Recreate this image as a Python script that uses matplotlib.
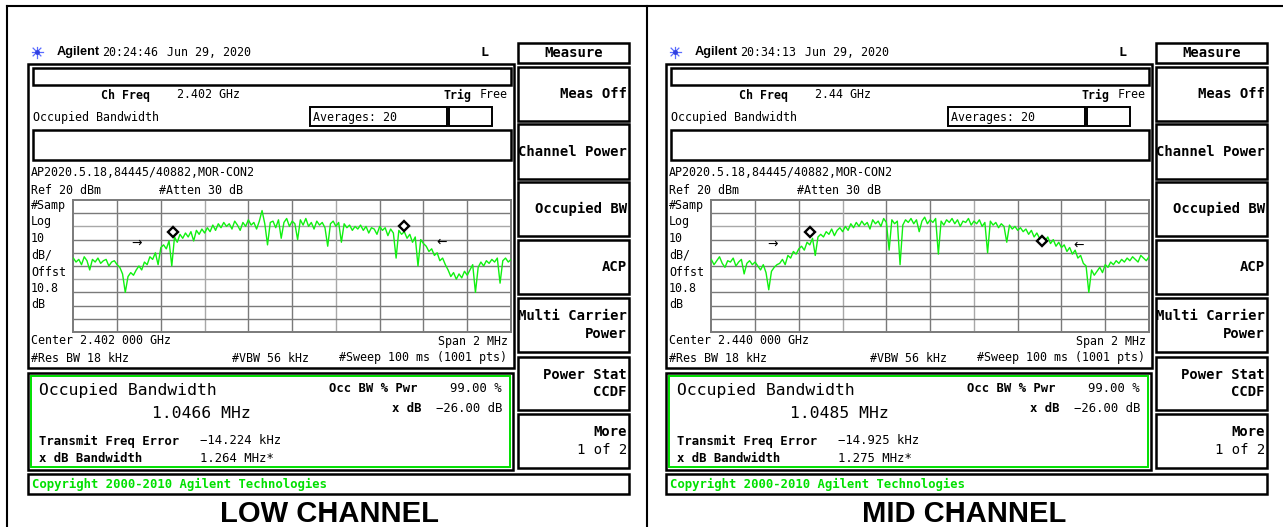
import numpy as np
import matplotlib
matplotlib.use("Agg")
import matplotlib.pyplot as plt
from matplotlib.patches import Rectangle
from matplotlib import font_manager

# ---------------- data ----------------
PANEL_TITLES = ["LOW CHANNEL", "MID CHANNEL"]
TIMES = ["20:24:46", "20:34:13"]
DATE = "Jun 29, 2020"
CH_FREQS = ["2.402 GHz", "2.44 GHz"]
CENTERS = ["Center 2.402 000 GHz", "Center 2.440 000 GHz"]
OCC_BW = ["1.0466 MHz", "1.0485 MHz"]
FREQ_ERR = ["\u221214.224 kHz", "\u221214.925 kHz"]
XDB_BW = ["1.264 MHz*", "1.275 MHz*"]
SOFTKEYS = ["Meas Off", "Channel Power", "Occupied BW", "ACP",
            "Multi Carrier\nPower", "Power Stat\nCCDF", "More\n1 of 2"]

SPAN_MHZ = 2.0
REF_DBM = 20
DB_PER_DIV = 10

LOW_TRACE = [
    -24, -27, -25, -29, -23, -26, -33, -25, -27, -24, -28, -26, -25, -30, -27, -26, -29,
    -31, -36, -50, -38, -35, -37, -33, -30,
    -33, -27, -29, -23, -25, -20, -29, -16,
    -14, -17, -11, -30, -8, -12, -6, -9,
    -5, -8, -4, -11, -3, -6, -2, -5,
    -1, -4, 1, -3, 2, -1, 3, 0,
    2, -2, 4, 1, -3, 3, 0, 5,
    1, 3, -2, 4, 12, 2, -14, 3,
    4, -1, 5, -9, 3, 6, 0, 4,
    2, -10, 5, 1, 6, 0, 3, -2,
    4, 1, 3, -1, -15, 2, 4, 0,
    3, -12, 2, -1, 1, -3, 0, -2,
    1, -3, 0, -5, -1, -2, -6, 0,
    -3, -1, -7, -2, -5, -24, -3, -6,
    -4, -9, -6, -12, -8, -30, -10, -13,
    -15, -19, -17, -22, -20, -26, -24, -29,
    -33, -38, -35, -40, -36, -39, -34, -37,
    -33, -29, -50, -31, -27, -30, -26, -28,
    -25, -27, -24, -43, -26, -24, -27, -25,
]
MID_TRACE = [
    -25, -29, -26, -23, -28, -31, -26, -27, -24, -30, -27, -25, -36, -28, -26, -29, -27,
    -30, -33, -29, -35, -48, -34, -31, -29,
    -28, -25, -29, -22, -24, -19, -21, -17,
    -15, -18, -12, -14, -9, -22, -8, -6,
    -8, -4, -6, -2, -7, -3, -1, -4,
    0, -3, 2, -1, 3, 0, 4, 1,
    3, -2, 5, 2, 4, 0, 6, 3,
    -18, 5, 2, 4, -29, 1, 5, 3,
    6, 2, 5, -4, 4, 7, 2, 5,
    3, 6, -21, 4, 1, 5, 3, 6,
    2, 5, 0, 4, 3, 6, 1, 4,
    2, 5, 0, 3, -20, 4, 1, 3,
    -1, 2, 0, -12, 1, -2, 0, -3,
    -1, -4, -2, -6, -3, -8, -5, -9,
    -7, -11, -8, -13, -10, -15, -12, -16,
    -14, -19, -16, -21, -18, -24, -22, -28,
    -30, -50, -33, -37, -34, -31, -35, -29,
    -31, -27, -29, -26, -28, -25, -27, -24,
    -26, -23, -25, -27, -22, -24, -26, -23,
]
TRACES = [LOW_TRACE, MID_TRACE]
# marker diamonds (MHz offset, dBm)
MARKER_F = [[-0.543, 0.509], [-0.547, 0.513]]
MARKER_DB = [[-4.5, 0.5], [-4.0, -11.0]]
# bandwidth arrows (MHz offset, dBm)
ARROW_F = [[-0.71, 0.684], [-0.72, 0.68]]
ARROW_DB = [[-12.8, -12.3], [-13.6, -14.0]]

# ---------------- fonts ----------------
names = {f.name for f in font_manager.fontManager.ttflist}
MONO = "DejaVu Sans Mono"
SANS = "Liberation Sans" if "Liberation Sans" in names else "DejaVu Sans"
if "Liberation Sans Narrow" in names:
    BIG, BIGSIZE = "Liberation Sans Narrow", 17
else:
    BIG, BIGSIZE = MONO, 11.8

W, H = 1283, 527
fig = plt.figure(figsize=(W / 100, H / 100), dpi=100)
fig.patch.set_facecolor("white")
bg = fig.add_axes([0, 0, 1, 1])
bg.set_xlim(0, W)
bg.set_ylim(H, 0)
bg.axis("off")

GREEN = "#00e000"


def rect(x0, y0, x1, y1, lw=1.5, ec="black", z=2):
    bg.add_patch(Rectangle((x0, y0), x1 - x0, y1 - y0, fill=False,
                           ec=ec, lw=lw, zorder=z))


def txt(x, y, s, size=8.4, weight="normal", ha="left", color="black",
        family=MONO, va="center", ls=1.2):
    bg.text(x, y, s, fontsize=size, fontweight=weight, ha=ha, va=va,
            color=color, family=family, linespacing=ls, zorder=5)


# outer frame
bg.plot([7, W], [6, 6], color="black", lw=1.5)
bg.plot([7, 7], [6, H], color="black", lw=1.5)
bg.plot([646.5, 646.5], [6, H], color="black", lw=1.5)

freq = np.linspace(-SPAN_MHZ / 2, SPAN_MHZ / 2, len(LOW_TRACE))


def star(cx, cy):
    for a in np.arange(0, np.pi, np.pi / 4):
        bg.plot([cx - 5.5 * np.cos(a), cx + 5.5 * np.cos(a)],
                [cy - 5.5 * np.sin(a), cy + 5.5 * np.sin(a)],
                color="#5a6cff", lw=0.9, zorder=4)
    bg.plot([cx], [cy], marker="o", ms=2.5, color="#3040e0", zorder=5)


def panel(k, dx):
    # header
    star(37 + dx, 52)
    txt(57 + dx, 52, "Agilent", family=SANS, weight="bold", size=9.2)
    txt(102 + dx, 52, TIMES[k])
    txt(167 + dx, 52, DATE)
    txt(480 + dx, 52, "L", weight="bold", size=9.5)

    # softkeys
    rect(518 + dx, 43, 629 + dx, 63, lw=1.8)
    txt(573.5 + dx, 53, "Measure", weight="bold", size=10, ha="center")
    boxes = [(67, 121), (124, 179), (182, 236), (240, 294),
             (298, 352), (357, 410), (414, 468)]
    for (y0, y1), lab in zip(boxes, SOFTKEYS):
        rect(518 + dx, y0, 629 + dx, y1, lw=1.8)
        lines = lab.split("\n")
        ym = (y0 + y1) / 2
        if len(lines) == 1:
            txt(627 + dx, ym, lines[0], weight="bold", size=10, ha="right")
        else:
            w2 = "normal" if lab.startswith("More") else "bold"
            txt(627 + dx, ym - 8.5, lines[0], weight="bold", size=10, ha="right")
            txt(627 + dx, ym + 8.5, lines[1], weight=w2, size=10, ha="right")

    # main screen
    rect(28 + dx, 64, 514 + dx, 368, lw=1.8)
    rect(33 + dx, 68, 511 + dx, 85, lw=1.8)
    txt(101 + dx, 95, "Ch Freq", weight="bold")
    txt(177 + dx, 95, CH_FREQS[k])
    txt(444 + dx, 95, "Trig", weight="bold")
    txt(480 + dx, 95, "Free")
    txt(33 + dx, 117, "Occupied Bandwidth")
    rect(310 + dx, 107, 447 + dx, 126, lw=1.4)
    rect(449 + dx, 107, 492 + dx, 126, lw=1.4)
    txt(313 + dx, 117, "Averages: 20")
    rect(33 + dx, 130, 511 + dx, 160, lw=1.8)
    txt(31 + dx, 172, "AP2020.5.18,84445/40882,MOR-CON2")
    txt(31 + dx, 191, "Ref 20 dBm")
    txt(159 + dx, 191, "#Atten 30 dB")
    for lab, yy in zip(["#Samp", "Log", "10", "dB/", "Offst", "10.8", "dB"],
                       [206, 222, 238, 255, 272, 288, 304]):
        txt(31 + dx, yy, lab)
    txt(31 + dx, 341, CENTERS[k])
    txt(508 + dx, 341, "Span 2 MHz", ha="right")
    txt(31 + dx, 358, "#Res BW 18 kHz")
    txt(232 + dx, 358, "#VBW 56 kHz")
    txt(507 + dx, 358, "#Sweep 100 ms (1001 pts)", ha="right")

    # graticule / trace
    gx0, gx1, gy0, gy1 = 73.3 + dx, 511 + dx, 200, 332
    ax = fig.add_axes([gx0 / W, 1 - gy1 / H, (gx1 - gx0) / W, (gy1 - gy0) / H])
    ax.set_xlim(-SPAN_MHZ / 2, SPAN_MHZ / 2)
    ax.set_ylim(REF_DBM - 10 * DB_PER_DIV, REF_DBM)
    ax.set_xticks([])
    ax.set_yticks([])
    ax.patch.set_alpha(0)
    for s in ax.spines.values():
        s.set_color("#7a7a7a")
        s.set_linewidth(1.4)
    for i in range(1, 10):
        cv = "#a8a8a8" if i in (3, 6) else "#7a7a7a"
        ch = "#a8a8a8" if i in (2, 6) else "#7a7a7a"
        ax.axvline(-SPAN_MHZ / 2 + i * SPAN_MHZ / 10, color=cv, lw=1.0, zorder=1)
        ax.axhline(REF_DBM - i * DB_PER_DIV, color=ch, lw=1.0, zorder=1)
    ax.plot(freq, TRACES[k], color="#10f010", lw=1.0, zorder=3)
    ax.plot(MARKER_F[k], MARKER_DB[k], ls="none", marker="D", ms=5,
            mfc="white", mec="black", mew=1.7, zorder=4)
    ax.text(ARROW_F[k][0], ARROW_DB[k][0], "\u2192", ha="center", va="center",
            fontsize=9, family="DejaVu Sans", zorder=4)
    ax.text(ARROW_F[k][1], ARROW_DB[k][1], "\u2190", ha="center", va="center",
            fontsize=9, family="DejaVu Sans", zorder=4)

    # result box
    rect(28 + dx, 373, 513 + dx, 470, lw=1.8)
    rect(31 + dx, 376, 510 + dx, 467, lw=1.4, ec=GREEN)
    txt(39 + dx, 390, "Occupied Bandwidth", family=BIG, size=BIGSIZE)
    txt(152 + dx, 414, OCC_BW[k], family=BIG, size=BIGSIZE)
    txt(329 + dx, 389, "Occ BW % Pwr", weight="bold", size=8.8)
    txt(502 + dx, 389, "99.00 %", ha="right", size=8.8)
    txt(422 + dx, 408, "x dB", weight="bold", size=8.8, ha="right")
    txt(502 + dx, 408, "\u221226.00 dB", ha="right", size=8.8)
    txt(39 + dx, 441, "Transmit Freq Error", weight="bold", size=8.8)
    txt(200 + dx, 441, FREQ_ERR[k], size=8.8)
    txt(39 + dx, 458, "x dB Bandwidth", weight="bold", size=8.8)
    txt(200 + dx, 458, XDB_BW[k], size=8.8)

    # copyright
    rect(28 + dx, 474, 629 + dx, 494, lw=1.8)
    txt(32 + dx, 484.5, "Copyright 2000-2010 Agilent Technologies",
        weight="bold", size=8.8, color=GREEN)

    # caption
    bg.text([329, 964][k], 514, PANEL_TITLES[k], fontsize=21,
            fontweight="bold", family=SANS, ha="center", va="center")


panel(0, 0)
panel(1, 638)

fig.savefig("out.png", dpi=100, facecolor="white")
